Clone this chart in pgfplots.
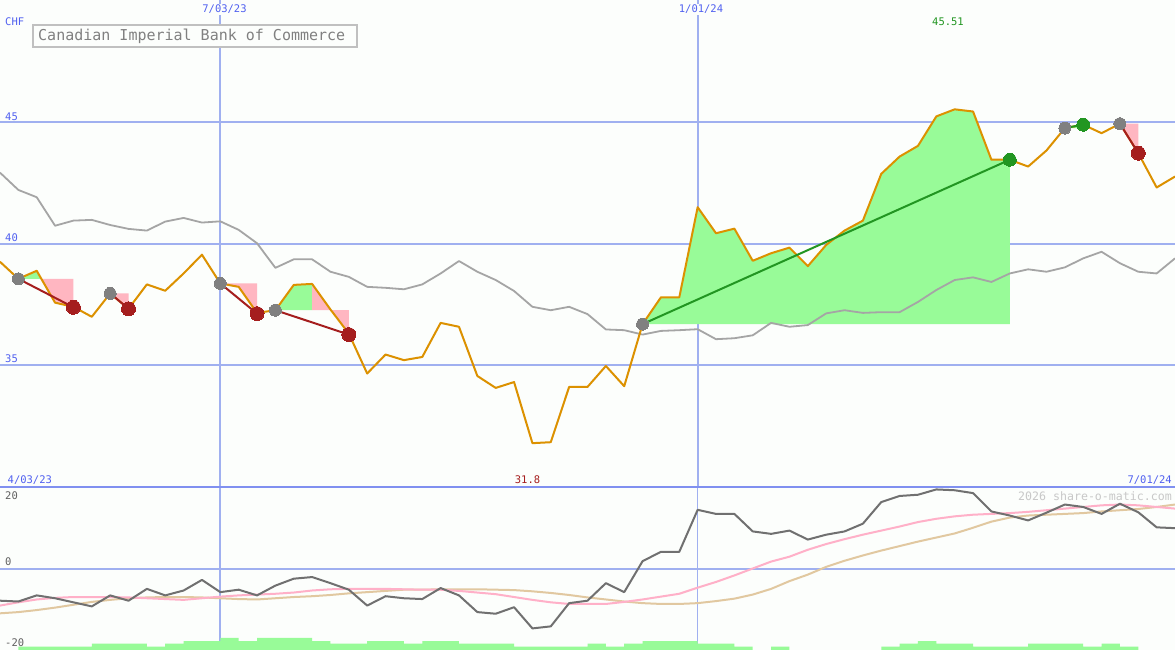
\documentclass[border=0pt]{standalone}
\usepackage{pgfplots}
\pgfplotsset{compat=1.18}
\usepackage{pgfplotstable}
\usepackage{fontspec}
\setmainfont{DejaVu Sans Mono}
\setmonofont{DejaVu Sans Mono}

\definecolor{bg}{RGB}{252,254,252}
\definecolor{gridblue}{RGB}{160,176,240}
\definecolor{divblue}{RGB}{128,144,240}
\definecolor{labelblue}{RGB}{80,96,240}
\definecolor{price}{RGB}{220,145,0}
\definecolor{avgline}{RGB}{165,165,165}
\definecolor{lgreen}{RGB}{152,251,152}
\definecolor{lpink}{RGB}{255,182,193}
\definecolor{mgrey}{RGB}{128,128,128}
\definecolor{mred}{RGB}{165,30,30}
\definecolor{mgreen}{RGB}{34,150,34}
\definecolor{oscgrey}{RGB}{112,112,112}
\definecolor{oscpink}{RGB}{255,176,200}
\definecolor{osctan}{RGB}{225,200,160}
\definecolor{boxgrey}{RGB}{192,192,192}
\definecolor{wmgrey}{RGB}{200,200,200}
\definecolor{lowlab}{RGB}{96,96,96}

% weekly closes (week 0 = left edge) and the grey average
\pgfplotstableread{
week price avg
0 39.25 42.91
1 38.55 42.20
2 38.88 41.90
3 37.57 40.73
4 37.40 40.94
5 36.99 40.97
6 37.95 40.76
7 37.32 40.60
8 38.32 40.53
9 38.06 40.90
10 38.77 41.05
11 39.54 40.86
12 38.36 40.91
13 38.22 40.56
14 37.15 40.01
15 37.26 39.00
16 38.30 39.35
17 38.34 39.35
18 37.29 38.84
19 36.30 38.63
20 34.66 38.22
21 35.44 38.18
22 35.21 38.12
23 35.34 38.32
24 36.74 38.77
25 36.58 39.28
26 34.56 38.84
27 34.07 38.50
28 34.31 38.05
29 31.80 37.40
30 31.84 37.26
31 34.11 37.40
32 34.11 37.10
33 34.97 36.47
34 34.14 36.44
35 36.69 36.26
36 37.79 36.41
37 37.79 36.44
38 41.49 36.48
39 40.42 36.07
40 40.61 36.11
41 39.29 36.23
42 39.60 36.74
43 39.83 36.58
44 39.07 36.65
45 39.94 37.13
46 40.53 37.26
47 40.94 37.15
48 42.86 37.18
49 43.57 37.18
50 44.01 37.60
51 45.22 38.09
52 45.51 38.50
53 45.42 38.61
54 43.44 38.42
55 43.44 38.77
56 43.16 38.94
57 43.82 38.84
58 44.74 39.02
59 44.88 39.39
60 44.53 39.66
61 44.92 39.19
62 43.71 38.84
63 42.30 38.77
64 42.75 39.39
}\updata

% lower panel: oscillator, its two averages, volume steps
\pgfplotstableread{
week osc pink tan vol
0 -7.9 -9.1 -11.0 -20
1 -8.1 -8.3 -10.7 -19.2
2 -6.6 -7.6 -10.2 -19.2
3 -7.3 -7.2 -9.6 -19.2
4 -8.3 -7.0 -8.9 -19.2
5 -9.3 -7.0 -8.2 -18.45
6 -6.6 -7.0 -7.7 -18.45
7 -7.9 -7.1 -7.3 -18.45
8 -5.0 -7.3 -7.1 -19.2
9 -6.6 -7.5 -7.0 -18.45
10 -5.4 -7.7 -7.0 -17.8
11 -2.8 -7.3 -7.1 -17.8
12 -5.8 -6.9 -7.3 -17.05
13 -5.2 -6.6 -7.5 -17.8
14 -6.6 -6.4 -7.6 -17.05
15 -4.2 -6.2 -7.3 -17.05
16 -2.5 -5.9 -7.0 -17.05
17 -2.1 -5.4 -6.8 -17.8
18 -3.6 -5.1 -6.5 -18.45
19 -5.2 -5.0 -6.1 -18.45
20 -9.1 -5.0 -5.8 -17.8
21 -6.8 -5.0 -5.5 -17.8
22 -7.3 -5.1 -5.2 -18.45
23 -7.5 -5.2 -5.2 -17.8
24 -4.8 -5.2 -5.1 -17.8
25 -6.6 -5.5 -5.1 -18.45
26 -10.7 -5.9 -5.1 -18.45
27 -11.1 -6.3 -5.2 -18.45
28 -9.5 -7.0 -5.3 -19.2
29 -14.7 -7.7 -5.6 -19.2
30 -14.2 -8.3 -6.0 -19.2
31 -8.5 -8.7 -6.5 -19.2
32 -7.9 -8.7 -7.1 -18.45
33 -3.6 -8.7 -7.6 -19.2
34 -5.8 -8.2 -8.1 -18.45
35 1.8 -7.6 -8.5 -17.8
36 4.1 -6.9 -8.7 -17.8
37 4.1 -6.2 -8.7 -17.8
38 14.4 -4.7 -8.5 -18.45
39 13.4 -3.3 -8.0 -18.45
40 13.4 -1.7 -7.4 -19.2
41 9.1 0.0 -6.4 -20
42 8.5 1.7 -5.0 -19.2
43 9.3 2.9 -3.1 -20
44 7.1 4.6 -1.5 -20
45 8.3 6.0 0.4 -20
46 9.1 7.2 1.9 -20
47 11.0 8.3 3.2 -20
48 16.3 9.3 4.4 -19.2
49 17.8 10.3 5.5 -18.45
50 18.1 11.4 6.6 -17.8
51 19.4 12.2 7.6 -18.45
52 19.2 12.8 8.6 -18.45
53 18.5 13.2 10.0 -19.2
54 14.0 13.4 11.5 -19.2
55 13.0 13.6 12.5 -19.2
56 11.8 13.9 13.0 -18.45
57 13.7 14.3 13.2 -18.45
58 15.7 14.7 13.4 -18.45
59 15.1 15.1 13.6 -19.2
60 13.4 15.5 14.0 -18.45
61 15.9 15.7 14.3 -19.2
62 13.8 15.5 14.6 -20
63 10.1 15.1 15.1 -20
64 9.9 14.7 15.7 -20
}\lowdata

\begin{document}
\begin{tikzpicture}[font=\fontsize{10.5}{12}\selectfont]
\begin{axis}[
    name=up,
    scale only axis,
    width=1175pt, height=487pt,
    xmin=0, xmax=64, ymin=30, ymax=50,
    axis line style={draw=none},
    tick style={draw=none},
    xtick={12,38}, ytick={35,40,45},
    xticklabels={}, yticklabels={},
    grid=major,
    major grid style={gridblue, line width=2pt},
    axis background/.style={fill=bg},
]
% gains and losses of each trade
\addplot[fill=lgreen, draw=none] coordinates {(1,38.55) (2,38.88) (2.26,38.55)} -- cycle;
\addplot[fill=lpink, draw=none] coordinates {(2.26,38.55) (3,37.57) (4,37.40) (4,38.55)} -- cycle;
\addplot[fill=lpink, draw=none] coordinates {(6,37.95) (7,37.32) (7,37.95)} -- cycle;
\addplot[fill=lpink, draw=none] coordinates {(12,38.36) (13,38.22) (14,37.15) (14,38.36)} -- cycle;
\addplot[fill=lgreen, draw=none] coordinates {(15,37.26) (16,38.30) (17,38.34) (17,37.26)} -- cycle;
\addplot[fill=lpink, draw=none] coordinates {(17,37.26) (17,38.34) (18,37.29) (19,36.30) (19,37.26)} -- cycle;
\addplot[fill=lgreen, draw=none] coordinates {
  (35,36.69) (36,37.79) (37,37.79) (38,41.49) (39,40.42) (40,40.61) (41,39.29)
  (42,39.60) (43,39.83) (44,39.07) (45,39.94) (46,40.53) (47,40.94) (48,42.86)
  (49,43.57) (50,44.01) (51,45.22) (52,45.51) (53,45.42) (54,43.44) (55,43.44)
  (55,36.69)} -- cycle;
\addplot[fill=lgreen, draw=none] coordinates {(58,44.74) (59,44.88) (59,44.74)} -- cycle;
\addplot[fill=lpink, draw=none] coordinates {(61,44.92) (62,43.71) (62,44.92)} -- cycle;

\addplot[avgline, line width=1.8pt, line join=round] table[x=week, y=avg] {\updata};
\addplot[price, line width=2pt, line join=round] table[x=week, y=price] {\updata};

% trade lines
\addplot[mred, line width=2pt] coordinates {(1,38.55) (4,37.38)};
\addplot[mred, line width=2pt] coordinates {(6,37.95) (7,37.32)};
\addplot[mred, line width=2pt] coordinates {(12,38.36) (14,37.12)};
\addplot[mred, line width=2pt] coordinates {(15,37.26) (19,36.26)};
\addplot[mgreen, line width=2pt] coordinates {(35,36.69) (55,43.44)};
\addplot[mgreen, line width=2pt] coordinates {(58,44.74) (59,44.88)};
\addplot[mred, line width=2pt] coordinates {(61,44.92) (62,43.71)};

% entry / exit markers
\addplot[mgrey, only marks, mark=*, mark size=6pt, mark options={fill=mgrey, draw=mgrey, line width=0pt}]
  coordinates {(1,38.55) (6,37.95) (12,38.36) (15,37.26) (35,36.69) (58,44.74) (61,44.92)};
\addplot[mred, only marks, mark=*, mark size=7pt, mark options={fill=mred, draw=mred, line width=0pt}]
  coordinates {(4,37.38) (7,37.32) (14,37.12) (19,36.26) (62,43.71)};
\addplot[mgreen, only marks, mark=*, mark size=6.5pt, mark options={fill=mgreen, draw=mgreen, line width=0pt}]
  coordinates {(55,43.44) (59,44.88)};
\end{axis}

\begin{axis}[
    name=low,
    at={(up.south west)}, anchor=north west,
    scale only axis,
    width=1175pt, height=163pt,
    xmin=0, xmax=64, ymin=-20, ymax=20,
    axis line style={draw=none},
    tick style={draw=none},
    xtick=\empty, ytick={0},
    xticklabels={}, yticklabels={},
    ymajorgrids,
    major grid style={gridblue, line width=2pt},
    axis background/.style={fill=bg},
    clip=false,
]
\draw[gridblue, line width=2pt] (axis cs:12,-20) -- (axis cs:12,20);
\draw[gridblue, line width=1.4pt] (axis cs:38,-20) -- (axis cs:38,20);
\addplot[fill=lgreen, draw=none, const plot mark left] table[x=week, y=vol] {\lowdata} -- cycle;
\addplot[osctan, line width=2pt] table[x=week, y=tan] {\lowdata};
\addplot[oscpink, line width=2pt] table[x=week, y=pink] {\lowdata};
\addplot[oscgrey, line width=2pt, line join=round] table[x=week, y=osc] {\lowdata};
\draw[divblue, line width=2pt] (axis cs:0,20) -- (axis cs:64,20);
\end{axis}

% labels, placed in pixels from the top left corner
\begin{scope}[every node/.style={inner sep=0pt}]
\node[anchor=base west, text=labelblue] at ([xshift=5pt, yshift=-25.5pt]up.north west) {CHF};
\node[anchor=base, text=labelblue, fill=bg, inner ysep=1pt] at ([xshift=224.5pt, yshift=-13pt]up.north west) {7/03/23};
\node[anchor=base, text=labelblue, fill=bg, inner ysep=1pt] at ([xshift=701pt, yshift=-13pt]up.north west) {1/01/24};
\node[anchor=base, text=mgreen] at ([xshift=948pt, yshift=-26pt]up.north west) {45.51};
\node[anchor=base west, text=labelblue] at ([xshift=5pt, yshift=-120.5pt]up.north west) {45};
\node[anchor=base west, text=labelblue] at ([xshift=5pt, yshift=-241.5pt]up.north west) {40};
\node[anchor=base west, text=labelblue] at ([xshift=5pt, yshift=-362.5pt]up.north west) {35};
\node[anchor=base west, text=labelblue] at ([xshift=7.5pt, yshift=-483pt]up.north west) {4/03/23};
\node[anchor=base, text=mred] at ([xshift=527.5pt, yshift=-483pt]up.north west) {31.8};
\node[anchor=base east, text=labelblue] at ([xshift=1172pt, yshift=-483pt]up.north west) {7/01/24};
\node[anchor=base west, text=lowlab] at ([xshift=5pt, yshift=-499.5pt]up.north west) {20};
\node[anchor=base west, text=lowlab] at ([xshift=5pt, yshift=-565pt]up.north west) {0};
\node[anchor=base west, text=lowlab] at ([xshift=5pt, yshift=-646pt]up.north west) {-20};
\node[anchor=base east, text=wmgrey, font=\fontsize{11.6}{13}\selectfont] at ([xshift=1172pt, yshift=-500pt]up.north west) {2026 share-o-matic.com};
\draw[boxgrey, line width=2pt, fill=bg] ([xshift=33pt, yshift=-25pt]up.north west) rectangle ([xshift=357pt, yshift=-47pt]up.north west);
\node[anchor=base west, text=mgrey, font=\fontsize{15}{18}\selectfont] at ([xshift=38pt, yshift=-40.7pt]up.north west) {Canadian Imperial Bank of Commerce};
\end{scope}

\pgfresetboundingbox
\path[use as bounding box] (up.north west) rectangle (low.south east);
\end{tikzpicture}
\end{document}
